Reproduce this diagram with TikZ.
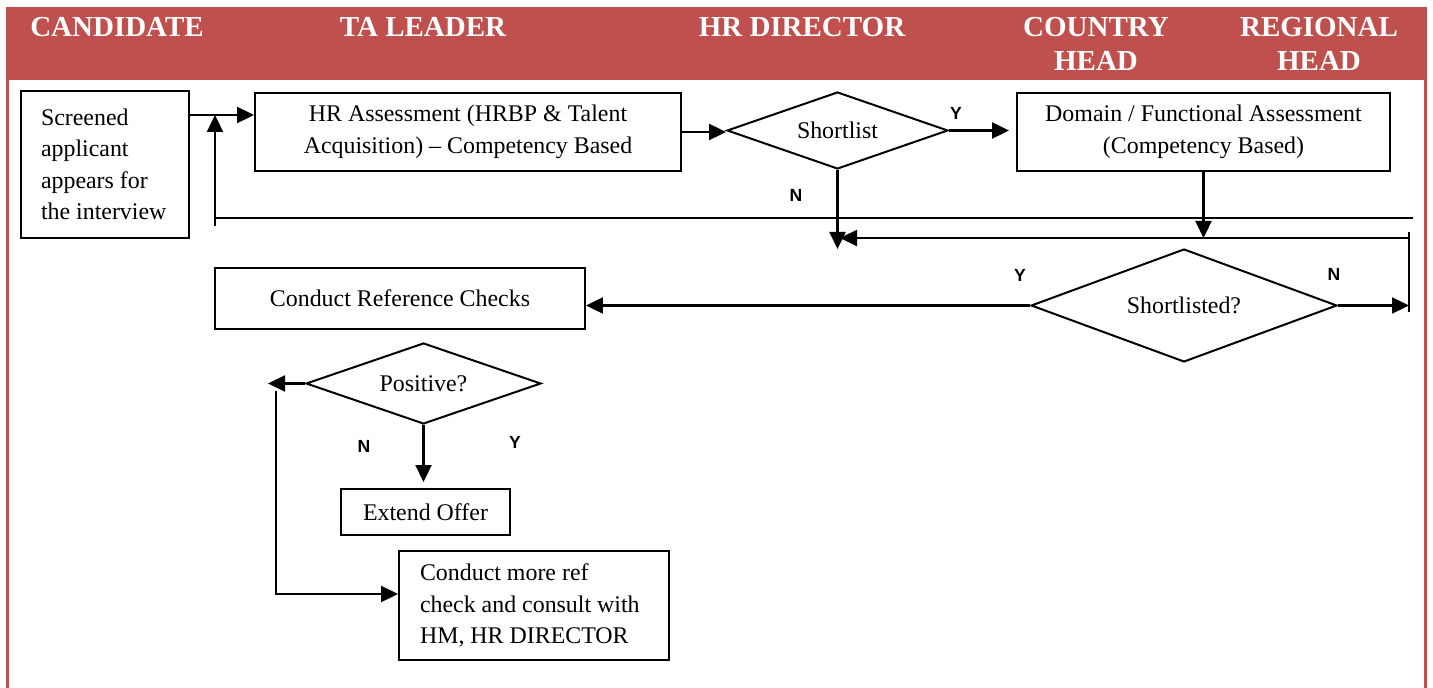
\documentclass[tikz,border=0pt]{standalone}
\usepackage{fontspec}
\setmainfont{Liberation Serif}
\newfontfamily\ynfont{Liberation Sans}
\usetikzlibrary{shapes.geometric}
\usetikzlibrary{arrows.meta}
\definecolor{hdrred}{RGB}{192,80,77}
\tikzset{
  box/.style= {draw, line width=0.04cm, inner sep=0, align=center,
    font=\fontsize{13.6}{17.9}\selectfont},
  decision/.style= {draw, diamond, aspect=2.8, line width=0.04cm, inner sep=0,
    font=\fontsize{13.6}{17.9}\selectfont},
  lane/.style= {text=white, align=center,
    font=\fontsize{16.5}{19.3}\selectfont\bfseries},
  yn/.style= {font=\ynfont\fontsize{10}{12}\selectfont\bfseries},
  flow/.style= {line width=0.045cm, -{Triangle[length=0.34cm,width=0.32cm]}},
  wire/.style= {line width=0.04cm},
}

\begin{document}
\begin{tikzpicture}[x=0.02cm, y=-0.02cm]
  \useasboundingbox (0,0) rectangle (1433,688);
  \fill [hdrred] (6,7) rectangle (1427,80);
  \draw [hdrred, line width=0.06cm] (7.5,7) -- (7.5,688);
  \draw [hdrred, line width=0.06cm] (1425.5,7) -- (1425.5,688);

  \node [lane] (candidate) at (117,27) {CANDIDATE};
  \node [lane] (taleader) at (423,27) {TA LEADER};
  \node [lane] (hrdirector) at (802,27) {HR DIRECTOR};
  \node [lane] (countryhead) at (1096,44) {COUNTRY\\HEAD};
  \node [lane] (regionalhead) at (1319,44) {REGIONAL\\HEAD};

  \node [box, align=flush left, text width=2.56cm, inner xsep=0.4cm, minimum height=2.94cm] (screened) at (105,164.5)
    {Screened\\applicant\\appears for\\the interview};
  \node [box, minimum width=8.52cm, minimum height=1.56cm] (hrassess) at (468,132)
    {HR Assessment (HRBP \& Talent\\Acquisition) -- Competency Based};
  \node [decision, minimum width=4.42cm, minimum height=1.54cm] (shortlist) at (837.5,130.5) {Shortlist};
  \node [box, minimum width=7.46cm, minimum height=1.56cm] (domain) at (1203.5,132)
    {Domain / Functional Assessment\\(Competency Based)};
  \node [decision, minimum width=6.12cm, minimum height=2.26cm] (shortlisted) at (1184,305.5) {Shortlisted?};
  \node [box, minimum width=7.4cm, minimum height=1.22cm] (refcheck) at (400,298.5) {Conduct Reference Checks};
  \node [decision, minimum width=4.7cm, minimum height=1.62cm] (positive) at (423.5,383.5) {Positive?};
  \node [box, minimum width=3.38cm, minimum height=0.92cm] (extend) at (425.5,512) {Extend Offer};
  \node [box, align=flush left, text width=4.56cm, inner xsep=0.42cm, minimum height=2.18cm] (moreref) at (534,605.5)
    {Conduct more ref\\check and consult with\\HM, HR DIRECTOR};

  \node [yn] (y1) at (956,113) {Y};
  \node [yn] (n1) at (796,195) {N};
  \node [yn] (y2) at (1020,275) {Y};
  \node [yn] (n2) at (1334,274) {N};
  \node [yn] (n3) at (364,446) {N};
  \node [yn] (y3) at (515,442) {Y};

  \coordinate (ain) at ([yshift=0.34cm]hrassess.west);
  \coordinate (loopR) at (1413,218);
  \coordinate (loopL) at (215,218);
  \coordinate (loopB) at (215,226);
  \coordinate (retR) at (1409,238);
  \coordinate (retL) at (840,238);
  \coordinate (vTop) at (1409,232);
  \coordinate (vBot) at (1409,312);
  \coordinate (nDrop) at (838,249);
  \coordinate (pLeft) at (268,383.5);
  \coordinate (pLoop) at (276,391);

  \draw [flow] (screened.east |- ain) -- (ain);
  \draw [wire] (loopR) -- (loopL);
  \draw [flow] (loopB) -- (loopL |- ain);
  \draw [flow] (hrassess.east) -- (hrassess.east -| shortlist.west);
  \draw [flow, shorten >=0.14cm] (shortlist.east) -- (shortlist.east -| domain.west);
  \draw [flow] (shortlist.south) -- (shortlist.south |- nDrop);
  \draw [flow] (domain.south) -- (domain.south |- retR);
  \draw [flow] (retR) -- (retL);
  \draw [wire] (vTop) -- (vBot);
  \draw [flow] (shortlisted.west) -- (shortlisted.west -| refcheck.east);
  \draw [flow] (shortlisted.east) -- (shortlisted.east -| retR);
  \draw [flow, shorten >=0.12cm] (positive.south) -- (positive.south |- extend.north);
  \draw [flow] (positive.west) -- (pLeft);
  \draw [flow] (pLoop) |- ([yshift=0.23cm]moreref.west);
\end{tikzpicture}
\end{document}
